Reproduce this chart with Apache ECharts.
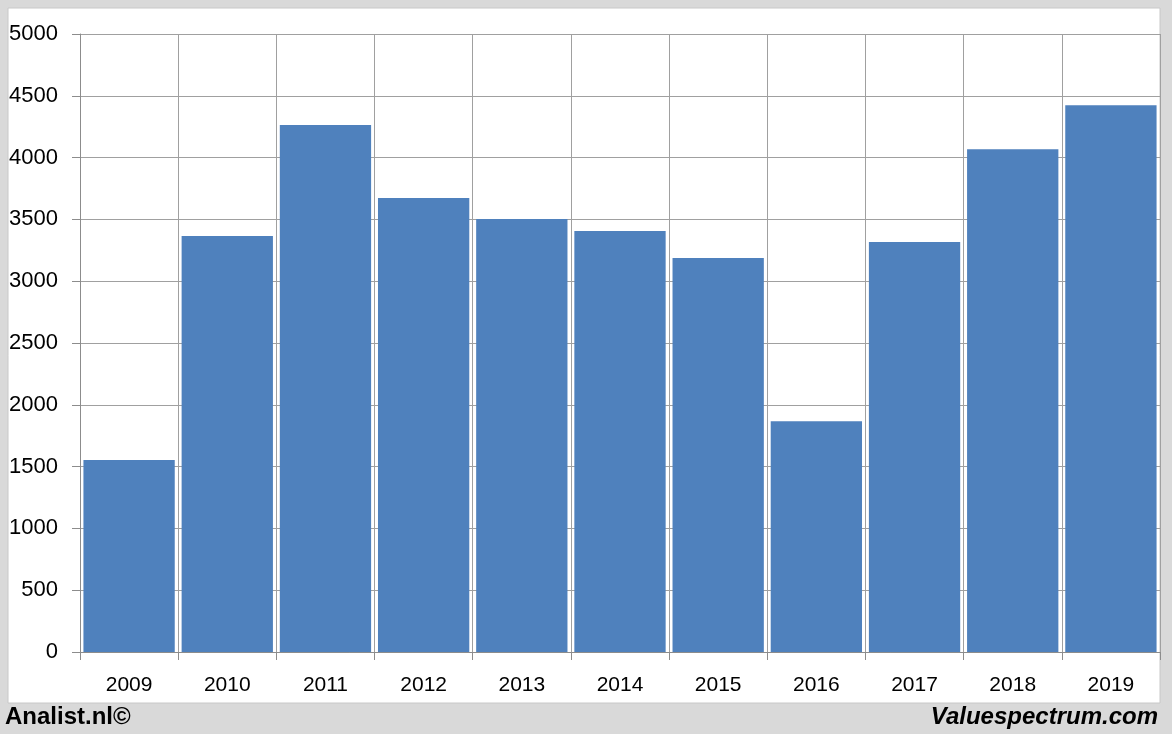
<!DOCTYPE html>
<html><head><meta charset="utf-8">
<script src="https://cdn.jsdelivr.net/npm/echarts@6/dist/echarts.min.js"></script>
<style>html,body{margin:0;padding:0;background:#d9d9d9}#c{width:1172px;height:734px}</style>
</head><body><div id="c"></div>
<script>
const categories = ['2009','2010','2011','2012','2013','2014','2015','2016','2017','2018','2019'];
const values = [1553, 3366, 4264, 3673, 3503, 3406, 3188, 1867, 3317, 4067, 4423];
const yTicks = {min: 0, max: 5000, interval: 500};
const footerLeft = 'Analist.nl©';
const footerRight = 'Valuespectrum.com';

const chart = echarts.init(document.getElementById('c'), null, {renderer: 'canvas'});
chart.setOption({
  backgroundColor: '#d9d9d9',
  animation: false,
  graphic: [
    {type: 'rect', shape: {x: 8, y: 8, width: 1152, height: 695}, style: {fill: '#ffffff', stroke: '#c8c8c8', lineWidth: 1}, z: -10},
    {type: 'text', left: 5, top: 705, style: {text: footerLeft, font: 'bold 24px "Liberation Sans"', fill: '#000'}},
    {type: 'text', right: 14, top: 705, style: {text: footerRight, font: 'italic bold 24px "Liberation Sans"', fill: '#000'}}
  ],
  grid: {left: 80, right: 12, top: 34, bottom: 82, containLabel: false},
  xAxis: {
    type: 'category', data: categories, boundaryGap: true,
    axisLine: {show: true, lineStyle: {color: '#8c8c8c', width: 1}},
    axisTick: {show: true, length: 8, lineStyle: {color: '#8c8c8c'}},
    splitLine: {show: true, lineStyle: {color: '#a0a0a0', width: 1}},
    axisLabel: {color: '#000', fontSize: 21, fontFamily: 'Liberation Sans', margin: 23}
  },
  yAxis: {
    type: 'value', min: yTicks.min, max: yTicks.max, interval: yTicks.interval,
    axisLine: {show: true, lineStyle: {color: '#8c8c8c', width: 1}},
    axisTick: {show: true, length: 8, lineStyle: {color: '#8c8c8c'}},
    splitLine: {show: true, lineStyle: {color: '#a0a0a0', width: 1}},
    axisLabel: {color: '#000', fontSize: 22, fontFamily: 'Liberation Sans', margin: 22,
      formatter: function (v) { return String(v); }}
  },
  series: [{
    type: 'bar', data: values, barCategoryGap: '7%',
    itemStyle: {color: '#4f81bd', borderColor: '#ffffff', borderWidth: 0}
  }]
});
</script></body></html>
